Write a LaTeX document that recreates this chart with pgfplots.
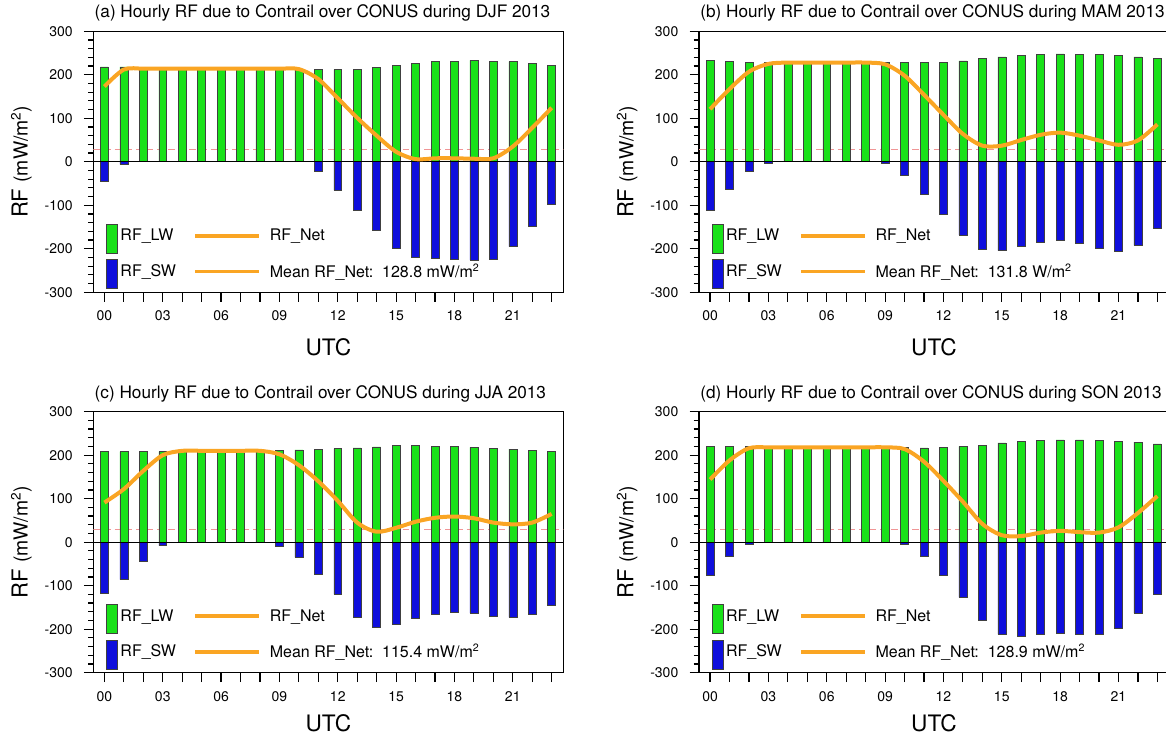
\documentclass[border=0pt]{standalone}
\usepackage{pgfplots}
\usepackage{pgfplotstable}
\pgfplotsset{compat=1.18}
\usepackage{fontspec}
\setmainfont{TeX Gyre Heros}

\definecolor{lwgreen}{RGB}{25,225,25}
\definecolor{swblue}{RGB}{15,15,220}
\definecolor{netorange}{RGB}{250,165,35}
\definecolor{refpink}{RGB}{240,150,150}

% hourly radiative forcing (mW/m^2): longwave, shortwave, net
\pgfplotstableread{
h lw sw net
0 218 -45 173
1 218 -6 212
2 214 0 214
3 214 0 214
4 214 0 214
5 214 0 214
6 214 0 214
7 214 0 214
8 214 0 214
9 214 0 214
10 213 0 213
11 212 -22 190
12 212 -66 146
13 212 -111 101
14 217 -157 60
15 221 -198 23
16 226 -220 6
17 230 -222 8
18 231 -223 8
19 233 -226 7
20 231 -223 8
21 230 -195 35
22 226 -148 78
23 221 -97 124
}\djf

\pgfplotstableread{
h lw sw net
0 233 -112 121
1 231 -64 167
2 228 -21 207
3 228 -3 225
4 228 0 228
5 228 0 228
6 228 0 228
7 228 0 228
8 228 0 228
9 228 -4 224
10 228 -30 198
11 228 -74 154
12 229 -121 108
13 232 -168 64
14 237 -200 37
15 241 -204 37
16 244 -194 50
17 247 -185 62
18 248 -181 67
19 247 -187 60
20 247 -198 49
21 244 -205 39
22 241 -192 49
23 238 -152 86
}\mam

\pgfplotstableread{
h lw sw net
0 208 -117 91
1 208 -86 122
2 208 -44 164
3 208 -8 200
4 210 0 210
5 210 0 210
6 210 0 210
7 210 0 210
8 210 0 210
9 211 -9 202
10 212 -35 177
11 213 -73 140
12 215 -120 95
13 217 -172 45
14 219 -195 24
15 222 -189 33
16 222 -175 47
17 221 -165 56
18 220 -161 59
19 218 -163 55
20 215 -170 45
21 214 -173 41
22 211 -166 45
23 209 -144 65
}\jja

\pgfplotstableread{
h lw sw net
0 221 -77 144
1 221 -33 188
2 220 -4 216
3 218 0 218
4 218 0 218
5 218 0 218
6 218 0 218
7 218 0 218
8 218 0 218
9 218 0 218
10 218 -4 214
11 217 -32 185
12 218 -77 141
13 220 -127 93
14 222 -180 42
15 228 -212 16
16 231 -217 14
17 234 -212 22
18 235 -209 26
19 235 -212 23
20 234 -212 22
21 232 -198 34
22 230 -163 67
23 226 -120 106
}\son

\pgfplotsset{
  rfpanel/.style={
    scale only axis, width=352.5pt, height=195.75pt,
    xmin=-0.57, xmax=23.6, ymin=-300, ymax=300,
    xtick={0,...,23},
    xticklabels={00,,,03,,,06,,,09,,,12,,,15,,,18,,,21,,},
    ytick={-300,-200,...,300},
    yticklabels={-300,-200,-100,0,100,200,300},
    minor y tick num=4,
    tick align=outside, xtick pos=bottom, ytick pos=left,
    major tick length=7pt, minor tick length=4pt,
    every tick/.style={black, line width=0.9pt},
    axis line style={line width=1.1pt},
    tick label style={font=\fontsize{10.5}{12}\selectfont},
    xticklabel style={yshift=-3.5pt},
    yticklabel style={xshift=-5pt},
    xlabel={UTC},
    xlabel style={font=\fontsize{17}{19}\selectfont, anchor=center},
    ylabel={\fontsize{16.5}{18}\selectfont RF \fontsize{14.5}{16}\selectfont(mW/m\textsuperscript{2})},
    ylabel style={at={(axis description cs:-0.153,0.5)}, anchor=center},
    title style={at={(axis description cs:0,1)}, anchor=base west,
      xshift=-2.5pt, yshift=4pt, font=\fontsize{12.9}{14}\selectfont},
    legend columns=2,
    legend cell align=left,
    legend style={draw=none, fill=none, at={(axis description cs:0,0)},
      anchor=south west, xshift=9.5pt, yshift=2.5pt, inner sep=0pt,
      row sep=4.5pt, font=\fontsize{12}{14}\selectfont,
      /tikz/every even column/.append style={column sep=11pt}},
  },
  lwbars/.style={ybar, bar width=0.41, bar shift=0pt, fill=lwgreen,
    draw=black!75, line width=0.4pt,
    legend image code/.code={\draw[fill=lwgreen,draw=black!75,line width=0.4pt]
      (0pt,-12.75pt) rectangle (8.25pt,9pt);}},
  swbars/.style={ybar, bar width=0.41, bar shift=0pt, fill=swblue,
    draw=black!75, line width=0.4pt,
    legend image code/.code={\draw[fill=swblue,draw=black!75,line width=0.4pt]
      (0pt,-12.75pt) rectangle (8.25pt,9pt);}},
  netline/.style={netorange, line width=3pt, smooth, no markers,
    legend image code/.code={\draw[netorange,line width=2.8pt]
      (0pt,0pt) -- (48pt,0pt); \path[draw=none] (48pt,0pt) -- (54pt,0pt);}},
  refline/.style={refpink, dash pattern=on 5pt off 3pt, line width=0.8pt, forget plot},
  zeroline/.style={black, line width=0.9pt, forget plot},
}

% one panel: table, mean label
\newcommand{\rfcontent}[2]{%
  \addlegendimage{lwbars}\addlegendentry{RF\_LW}
  \addlegendimage{netline}\addlegendentry{RF\_Net}
  \addlegendimage{swbars}\addlegendentry{RF\_SW}
  \addlegendimage{netline}\addlegendentry{#2}
  \addplot[refline] coordinates {(-0.57,29) (23.6,29)};
  \addplot[lwbars, forget plot] table[x=h, y=lw] {#1};
  \addplot[swbars, forget plot] table[x=h, y=sw] {#1};
  \addplot[zeroline] coordinates {(-0.57,0) (23.6,0)};
  \addplot[netline, forget plot] table[x=h, y=net] {#1};
}

\begin{document}
\begin{tikzpicture}
\useasboundingbox (0,0) rectangle (874.5pt,555pt);
\clip (0,0) rectangle (874.5pt,555pt);

\begin{axis}[rfpanel, at={(70pt,335.8pt)}, anchor=south west,
  xlabel style={at={(axis description cs:0.5,-0.21)}},
  title={(a) Hourly RF due to Contrail over CONUS during DJF 2013}]
\rfcontent{\djf}{Mean RF\_Net:\ \ 128.8 mW/m\textsuperscript{2}}
\end{axis}

\begin{axis}[rfpanel, at={(524.25pt,335.8pt)}, anchor=south west,
  xlabel style={at={(axis description cs:0.5,-0.21)}},
  title={(b) Hourly RF due to Contrail over CONUS during MAM 2013}]
\rfcontent{\mam}{Mean RF\_Net:\ \ 131.8 W/m\textsuperscript{2}}
\end{axis}

\begin{axis}[rfpanel, at={(70pt,50.5pt)}, anchor=south west,
  xlabel style={at={(axis description cs:0.5,-0.195)}},
  title={(c) Hourly RF due to Contrail over CONUS during JJA 2013}]
\rfcontent{\jja}{Mean RF\_Net:\ \ 115.4 mW/m\textsuperscript{2}}
\end{axis}

\begin{axis}[rfpanel, at={(524.25pt,50.5pt)}, anchor=south west,
  xlabel style={at={(axis description cs:0.5,-0.195)}},
  title={(d) Hourly RF due to Contrail over CONUS during SON 2013}]
\rfcontent{\son}{Mean RF\_Net:\ \ 128.9 mW/m\textsuperscript{2}}
\end{axis}
\end{tikzpicture}
\end{document}
